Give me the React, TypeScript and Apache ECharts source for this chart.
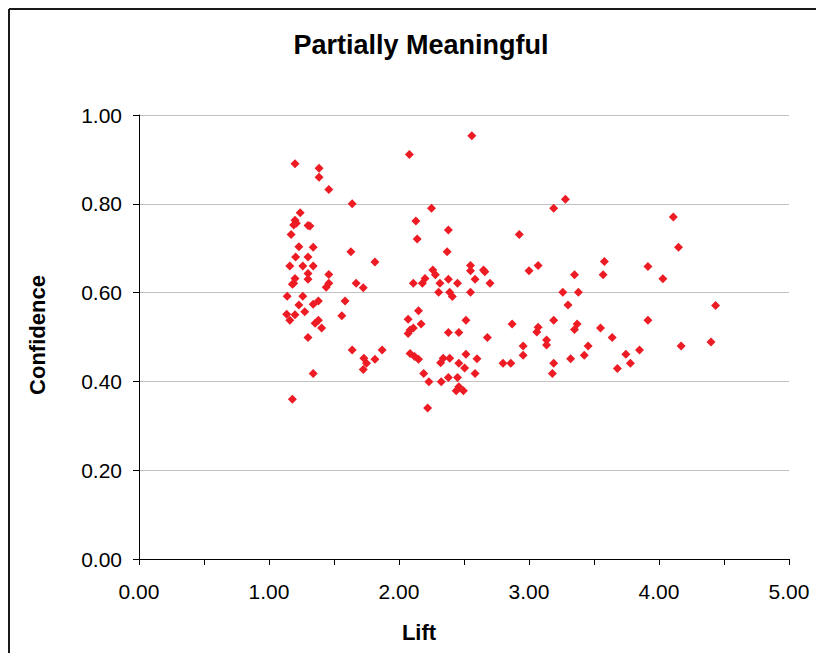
import React, { useEffect, useRef } from "react";
import * as echarts from "echarts";

const titleText = "Partially Meaningful";
const xName = "Lift";
const yName = "Confidence";

const liftValues: number[] = [
  1.2, 1.385, 1.385, 1.46, 1.64, 1.24, 1.2, 1.19, 1.21, 1.3, 1.315, 1.17, 1.23, 1.34, 1.63, 1.205, 1.3, 1.815,
  1.16, 1.26, 1.34, 1.3, 1.46, 1.3, 1.2, 1.19, 1.18, 1.46, 1.44, 1.67, 1.725, 1.14, 1.26, 1.23, 1.34, 1.38,
  1.585, 1.275, 1.136, 1.16, 1.2, 1.56, 1.38, 1.355, 1.405, 1.3, 1.64, 1.73, 1.75, 1.725, 1.815, 1.87, 1.34, 1.18,
  2.08, 2.56, 2.25, 2.13, 2.14, 2.38, 2.37, 2.26, 2.28, 2.55, 2.55, 2.65, 2.66, 2.2, 2.18, 2.11, 2.38, 2.315,
  2.45, 2.585, 2.7, 2.305, 2.39, 2.41, 2.55, 2.15, 2.07, 2.17, 2.11, 2.085, 2.07, 2.515, 2.38, 2.46, 2.68,
  2.085, 2.12, 2.15, 2.34, 2.32, 2.39, 2.515, 2.6, 2.46, 2.505, 2.19, 2.23, 2.585, 2.38, 2.45, 2.325, 2.46,
  2.495, 2.44, 2.22,
  2.925, 3.0, 3.07, 2.87, 3.07, 3.06, 3.135, 3.135, 2.955, 2.955, 2.8, 2.86, 3.28, 3.19, 3.58, 3.35, 3.57,
  3.26, 3.38, 3.3, 3.19, 3.35, 3.37, 3.55, 3.64, 3.455, 3.425, 3.32, 3.19, 3.18, 3.745, 3.78, 3.68, 3.85,
  4.11, 4.15, 3.915, 4.03, 4.435, 3.915, 4.17, 4.4,
];

const confidenceValues: number[] = [
  0.89, 0.88, 0.86, 0.832, 0.8, 0.78, 0.763, 0.752, 0.756, 0.751, 0.75, 0.731, 0.703, 0.702, 0.692, 0.68, 0.68, 0.669,
  0.66, 0.66, 0.66, 0.643, 0.641, 0.63, 0.632, 0.621, 0.619, 0.621, 0.612, 0.621, 0.611, 0.592, 0.592, 0.572, 0.574, 0.581,
  0.581, 0.557, 0.551, 0.538, 0.55, 0.548, 0.538, 0.531, 0.52, 0.499, 0.471, 0.452, 0.441, 0.427, 0.45, 0.471, 0.418, 0.36,
  0.911, 0.953, 0.79, 0.761, 0.721, 0.741, 0.692, 0.651, 0.64, 0.661, 0.649, 0.651, 0.647, 0.632, 0.621, 0.621, 0.63, 0.621,
  0.621, 0.63, 0.621, 0.601, 0.601, 0.591, 0.601, 0.559, 0.54, 0.529, 0.52, 0.516, 0.508, 0.538, 0.51, 0.51, 0.499,
  0.463, 0.456, 0.45, 0.452, 0.442, 0.452, 0.461, 0.451, 0.441, 0.43, 0.418, 0.399, 0.418, 0.409, 0.409, 0.399, 0.388,
  0.379, 0.379, 0.34,
  0.731, 0.649, 0.661, 0.529, 0.522, 0.511, 0.493, 0.482, 0.48, 0.459, 0.441, 0.441, 0.81, 0.79, 0.67, 0.64, 0.64,
  0.601, 0.601, 0.572, 0.538, 0.517, 0.529, 0.52, 0.499, 0.48, 0.459, 0.451, 0.441, 0.418, 0.461, 0.441, 0.429, 0.471,
  0.77, 0.702, 0.659, 0.631, 0.571, 0.538, 0.48, 0.489,
];

const FONT = "'Liberation Sans', Arial, sans-serif";

export default function App() {
  const ref = useRef<HTMLDivElement>(null);
  useEffect(() => {
    if (!ref.current) return;
    const chart = echarts.init(ref.current, undefined, { renderer: "svg" });
    const data = liftValues.map((x, i) => [x, confidenceValues[i]]);
    chart.setOption({
      animation: false,
      backgroundColor: "#ffffff",
      textStyle: { fontFamily: FONT },
      grid: {
        left: 131,
        top: 107,
        right: 27,
        bottom: 94,
        containLabel: false,
        outerBoundsMode: "none",
      },
      graphic: [
        {
          type: "line",
          shape: { x1: 1, y1: 1, x2: 808, y2: 1 },
          style: { stroke: "#1a1a1a", lineWidth: 2 },
          silent: true,
        },
        {
          type: "line",
          shape: { x1: 1, y1: 1, x2: 1, y2: 645 },
          style: { stroke: "#1a1a1a", lineWidth: 2 },
          silent: true,
        },
        {
          type: "text",
          x: 413,
          y: 37,
          style: {
            text: titleText,
            font: `bold 27px ${FONT}`,
            fill: "#000",
            textAlign: "center",
            textVerticalAlign: "middle",
          },
        },
        {
          type: "text",
          x: 411,
          y: 624,
          style: {
            text: xName,
            font: `bold 22px ${FONT}`,
            fill: "#000",
            textAlign: "center",
            textVerticalAlign: "middle",
          },
        },
        {
          type: "text",
          x: 29,
          y: 327,
          rotation: Math.PI / 2,
          style: {
            text: yName,
            font: `bold 22px ${FONT}`,
            fill: "#000",
            textAlign: "center",
            textVerticalAlign: "middle",
          },
        },
      ],
      xAxis: {
        type: "value",
        min: 0,
        max: 5,
        interval: 0.5,
        axisLine: { show: true, onZero: false, lineStyle: { color: "#000", width: 1 } },
        axisTick: { show: true, length: 6, lineStyle: { color: "#000" } },
        splitLine: { show: false },
        axisLabel: {
          margin: 22,
          fontSize: 21,
          color: "#000",
          fontFamily: FONT,
          formatter: (v: number) => (Math.abs(v - Math.round(v)) < 1e-6 ? v.toFixed(2) : ""),
        },
      },
      yAxis: {
        type: "value",
        min: 0,
        max: 1,
        interval: 0.2,
        axisLine: { show: true, onZero: false, lineStyle: { color: "#000", width: 1 } },
        axisTick: { show: true, length: 6, lineStyle: { color: "#000" } },
        splitLine: { show: true, lineStyle: { color: "#c0c0c0", width: 1 } },
        axisLabel: {
          margin: 17,
          fontSize: 21,
          color: "#000",
          fontFamily: FONT,
          formatter: (v: number) => v.toFixed(2),
        },
      },
      series: [
        {
          type: "scatter",
          symbol: "diamond",
          symbolSize: 9,
          itemStyle: { color: "#ED1C24", opacity: 1 },
          data,
        },
      ],
    });
    return () => chart.dispose();
  }, []);
  return (
    <div
      ref={ref}
      style={{ position: "absolute", left: 8, top: 8, width: 808, height: 645 }}
    />
  );
}
